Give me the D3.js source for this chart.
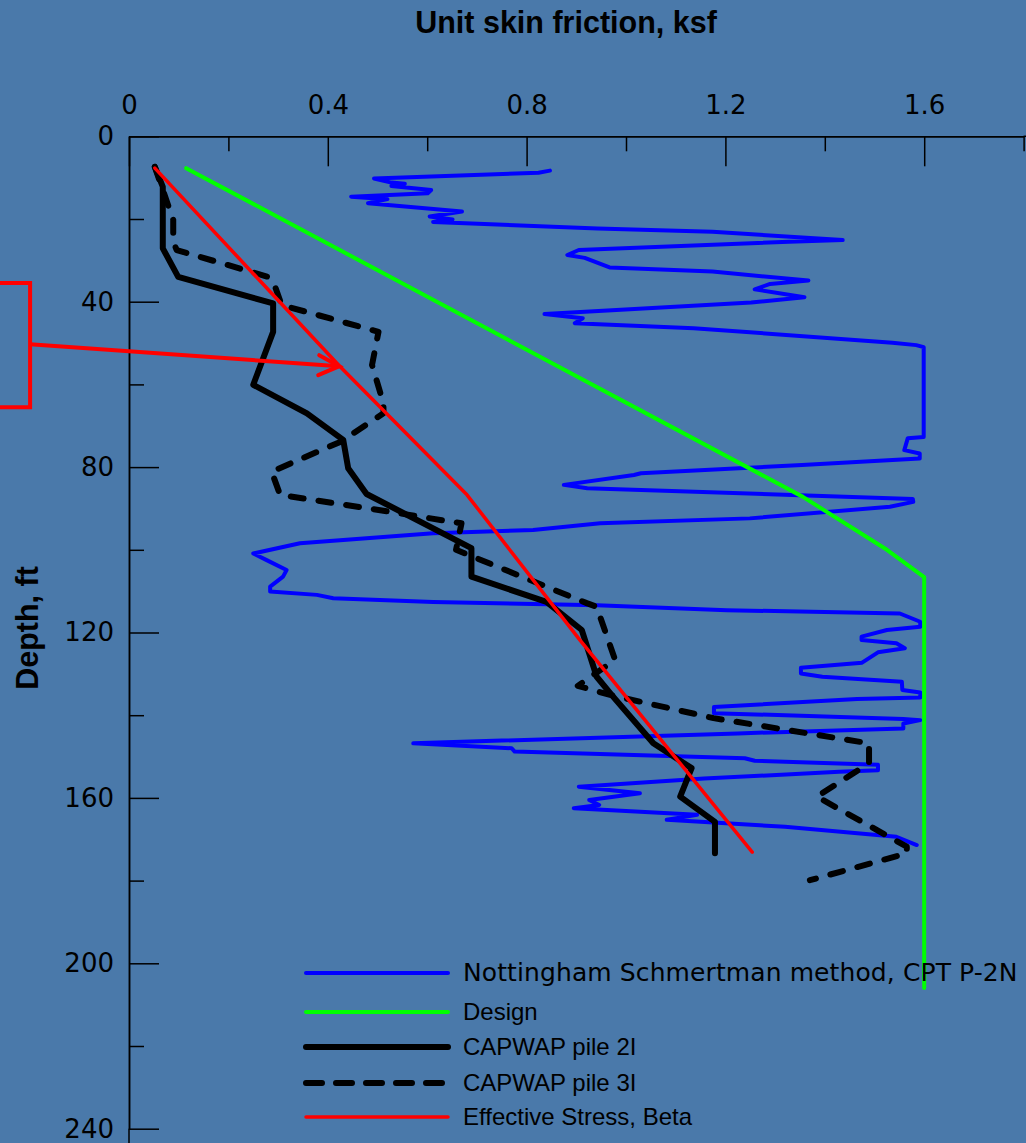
<!DOCTYPE html>
<head>
<meta charset="utf-8">
<title> Unit skin friction vs depth </title>
<script type="text/javascript" src="https://cdnjs.cloudflare.com/ajax/libs/d3/7.8.5/d3.min.js"></script>
<style>
	body { margin: 0; background: #4a79aa; }
	.axis text {
		font: 26px "DejaVu Sans", sans-serif;
		fill: #000;
	}
	.axis path,
	.axis line {
		fill: none;
		stroke: #000;
		stroke-width: 1.5;
	}
	.title {
		font: bold 30.5px "Liberation Sans", Arial, sans-serif;
	}
	.legend text {
		font: 24px "Liberation Sans", Arial, sans-serif;
	}
</style>
</head>

<body>
<script>
var width = 1026;
var height = 1143;

var svg = d3.select('body').append("svg")
		.attr("width", width)
		.attr("height", height)

svg.append('rect')
	.attr('width', width)
	.attr('height', height)
	.style('fill', '#4a79aa');

// 1 datasets (value in ksf, depth in ft)
var cptDepth = [8.3, 8.8, 10.2, 11.2, 11.5, 12.0, 13.0, 13.8, 14.6, 15.2,
	16.2, 18.2, 19.4, 20.1, 20.7, 22.3, 23.1, 25.1, 25.5, 27.5,
	28.7, 29.4, 31.7, 32.7, 34.9, 35.7, 37.0, 38.9, 40.2, 43.0,
	44.0, 45.2, 46.4, 49.9, 50.5, 51.0, 72.7, 73.0, 75.9, 76.7,
	77.9, 79.5, 81.5, 81.9, 84.3, 85.1, 87.7, 88.4, 89.6, 92.4,
	93.6, 95.2, 96.0, 98.4, 100.9, 102.5, 104.9, 106.5, 108.9, 110.1,
	110.9, 111.7, 112.6, 113.4, 114.6, 115.4, 117.4, 118.6, 119.4, 121.0,
	121.8, 122.6, 123.8, 124.8, 127.3, 128.5, 129.9, 130.7, 131.9, 133.9,
	134.5, 135.7, 136.1, 138.0, 139.5, 140.9, 141.2, 142.0, 143.2, 144.4,
	146.8, 148.0, 148.8, 150.4, 151.0, 152.0, 153.3, 153.7, 155.3, 157.3,
	158.9, 160.5, 161.7, 162.5, 164.1, 165.3, 167.0, 169.4, 171.4];
var cptValue = [0.847, 0.824, 0.493, 0.528, 0.555, 0.528, 0.608, 0.601, 0.447, 0.520,
	0.481, 0.670, 0.605, 0.651, 0.612, 0.943, 1.174, 1.436, 1.328, 0.905,
	0.882, 0.917, 0.967, 1.174, 1.367, 1.290, 1.259, 1.359, 1.252, 0.836,
	0.913, 0.897, 1.136, 1.536, 1.584, 1.599, 1.599, 1.567, 1.560, 1.591,
	1.591, 1.354, 1.030, 1.016, 0.875, 0.922, 1.577, 1.578, 1.531, 1.249,
	0.948, 0.813, 0.612, 0.344, 0.250, 0.277, 0.317, 0.310, 0.284, 0.284,
	0.378, 0.411, 0.612, 0.942, 1.203, 1.551, 1.592, 1.592, 1.525, 1.474,
	1.474, 1.544, 1.561, 1.507, 1.475, 1.352, 1.352, 1.395, 1.555, 1.556,
	1.592, 1.592, 1.465, 1.177, 1.177, 1.558, 1.592, 1.558, 1.558, 1.225,
	0.572, 0.770, 0.776, 1.239, 1.259, 1.507, 1.507, 1.429, 1.157, 0.905,
	1.028, 0.926, 0.946, 0.895, 1.143, 1.082, 1.320, 1.544, 1.585];

var designDepth = [7.7, 87.2, 100.0, 106.6, 206];
var designValue = [0.115, 1.356, 1.525, 1.6, 1.6];

var pile2Depth = [7.4, 12.2, 27.1, 34.0, 40.4, 47.3, 60.1, 67.0, 73.4, 80.3, 86.5,
	99.6, 106.5, 112.6, 119.4, 130.7, 135.5, 146.8, 152.8, 159.7, 165.8, 173.4];
var pile2Value = [0.052, 0.068, 0.068, 0.099, 0.290, 0.290, 0.250, 0.358, 0.431, 0.441, 0.478,
	0.689, 0.689, 0.840, 0.911, 0.941, 0.974, 1.055, 1.132, 1.109, 1.179, 1.179];

var pile3Depth = [7.4, 17.8, 20.2, 25.5, 27.5, 34.0, 36.4, 40.8, 47.3, 55.3, 64.6, 67.0,
	73.9, 81.1, 86.7, 90.8, 93.6, 100.0, 112.9, 113.8, 126.6, 132.9, 135.1,
	140.7, 146.8, 151.6, 159.7, 171.8, 173.4, 179.9];
var pile3Value = [0.052, 0.082, 0.089, 0.089, 0.096, 0.280, 0.294, 0.307, 0.502, 0.489, 0.512, 0.512,
	0.425, 0.287, 0.304, 0.525, 0.669, 0.658, 0.921, 0.941, 0.978, 0.903, 0.968,
	1.176, 1.489, 1.489, 1.384, 1.565, 1.565, 1.370];

var betaDepth = [7.7, 55.5, 86.7, 121.8, 173.1];
var betaValue = [0.052, 0.423, 0.680, 0.907, 1.254];

var xTicks = [0, 0.4, 0.8, 1.2, 1.6];
var xMinorTicks = [0.2, 0.6, 1.0, 1.4, 1.8];
var yTicks = [0, 40, 80, 120, 160, 200, 240];
var yMinorTicks = [20, 60, 100, 140, 180, 220];

var seriesNames = ["Nottingham Schmertman method, CPT P-2N", "Design",
	"CAPWAP pile 2I", "CAPWAP pile 3I", "Effective Stress, Beta"];

// 2 scales
var xScale = d3.scaleLinear().domain([0, 1.8]).range([129, 1023.6]);
var yScale = d3.scaleLinear().domain([0, 240]).range([136.3, 1128.7]);

// 3 axes (ticks point into the plot)
svg.append('g').attr('class', 'axis')
	.attr('transform', 'translate(0,' + yScale(0) + ')')
	.call(d3.axisTop(xScale).tickValues(xMinorTicks).tickSizeInner(-15).tickSizeOuter(0).tickFormat(''));
svg.append('g').attr('class', 'axis')
	.attr('transform', 'translate(0,' + yScale(0) + ')')
	.call(d3.axisTop(xScale).tickValues(xTicks).tickSizeInner(-30).tickSizeOuter(0).tickPadding(22).tickFormat(d3.format('')));
svg.append('line')
	.attr('x1', xScale(1.8)).attr('x2', width)
	.attr('y1', yScale(0)).attr('y2', yScale(0))
	.style('stroke', '#000').style('stroke-width', 1.5);

svg.append('g').attr('class', 'axis')
	.attr('transform', 'translate(' + xScale(0) + ',0)')
	.call(d3.axisLeft(yScale).tickValues(yMinorTicks).tickSizeInner(-15).tickSizeOuter(0).tickFormat(''));
svg.append('g').attr('class', 'axis')
	.attr('transform', 'translate(' + xScale(0) + ',0)')
	.call(d3.axisLeft(yScale).tickValues(yTicks).tickSizeInner(-30).tickSizeOuter(0).tickPadding(15));
svg.append('line')
	.attr('x1', xScale(0)).attr('x2', xScale(0))
	.attr('y1', yScale(240)).attr('y2', height)
	.style('stroke', '#000').style('stroke-width', 1.5);

// titles
svg.append('text').attr('class', 'title')
	.attr('x', 566).attr('y', 33)
	.attr('text-anchor', 'middle')
	.text('Unit skin friction, ksf');
svg.append('text').attr('class', 'title')
	.attr('transform', 'translate(38,628) rotate(-90)')
	.attr('text-anchor', 'middle')
	.text('Depth, ft');

// 4 lines
function pairs(vals, deps) {
	return vals.map(function(v, i) { return [v, deps[i]]; });
}
var line = d3.line()
	.x(function(d) { return xScale(d[0]); })
	.y(function(d) { return yScale(d[1]); });

var styles = [
	{color: '#0000ff', w: 4, dash: null, data: pairs(cptValue, cptDepth)},
	{color: '#00ff00', w: 4, dash: null, data: pairs(designValue, designDepth)},
	{color: '#000000', w: 6, dash: null, data: pairs(pile2Value, pile2Depth)},
	{color: '#000000', w: 6, dash: '13,15', data: pairs(pile3Value, pile3Depth)},
	{color: '#ff0000', w: 3.5, dash: null, data: pairs(betaValue, betaDepth)}
];

styles.forEach(function(s) {
	svg.append('path')
		.datum(s.data)
		.attr('d', line)
		.style('fill', 'none')
		.style('stroke', s.color)
		.style('stroke-width', s.w)
		.style('stroke-linejoin', 'round')
		.style('stroke-linecap', 'round')
		.style('stroke-dasharray', s.dash);
});

// 5 annotation: red bracket + arrow pointing at the beta line
var ann = svg.append('g')
	.style('fill', 'none')
	.style('stroke', '#ff0000')
	.style('stroke-width', 4);
ann.append('path')
	.attr('d', 'M' + xScale(-0.3) + ',' + yScale(35.5) +
		'H' + xScale(-0.199) + 'V' + yScale(65.5) + 'H' + xScale(-0.3));
ann.append('line')
	.attr('x1', xScale(-0.199)).attr('y1', yScale(50.3))
	.attr('x2', xScale(0.423)).attr('y2', yScale(55.6));
ann.append('path')
	.attr('d', 'M' + (xScale(0.423) - 20) + ',' + (yScale(55.6) - 11) +
		'L' + xScale(0.423) + ',' + yScale(55.6) +
		'L' + (xScale(0.423) - 21) + ',' + (yScale(55.6) + 9))
	.style('stroke-linecap', 'round');

// 6 legend
var legend = svg.append('g').attr('class', 'legend');
var legendY = [973, 1012, 1047, 1083, 1117];
seriesNames.forEach(function(name, i) {
	var s = styles[i];
	legend.append('line')
		.attr('x1', 306).attr('x2', 448)
		.attr('y1', legendY[i]).attr('y2', legendY[i])
		.style('stroke', s.color)
		.style('stroke-width', s.w)
		.style('stroke-linecap', 'round')
		.style('stroke-dasharray', s.dash ? '16,14' : null);
	var t = legend.append('text')
		.attr('x', 463).attr('y', legendY[i] + 8)
		.text(name);
	if (i == 0) {
		t.style('font', '25px "DejaVu Sans", sans-serif')
			.style('letter-spacing', '0.1px');
	}
});
</script>
</body>
